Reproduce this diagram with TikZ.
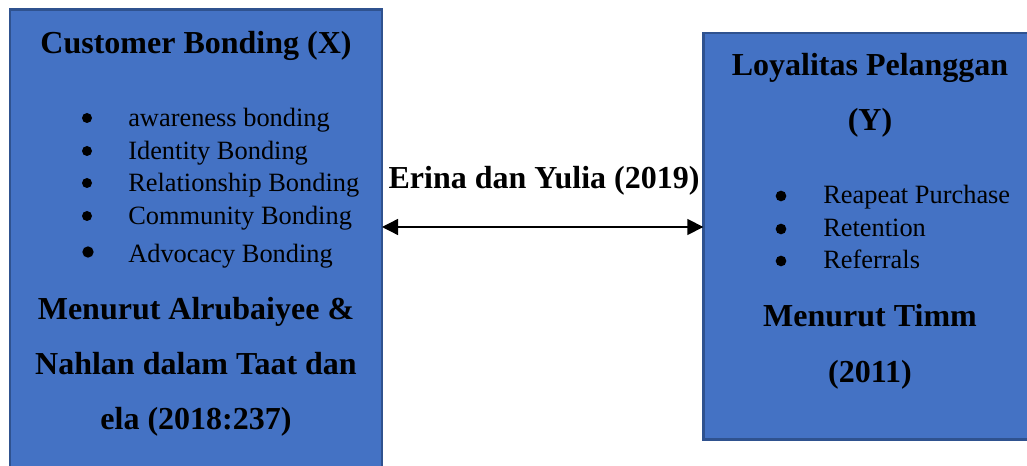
\documentclass[tikz,border=0pt]{standalone}
\usepackage{fontspec}
\setmainfont{Liberation Serif}
\usetikzlibrary{arrows.meta}
\definecolor{boxfill}{HTML}{4472C4}
\definecolor{boxline}{HTML}{2F528F}
\begin{document}
\begin{tikzpicture}[x=0.75pt,y=-0.75pt,
    panel/.style={draw=boxline,fill=boxfill,line width=2pt,inner sep=0pt,outer sep=0pt},
    head/.style={anchor=base,inner sep=0pt,font=\fontsize{24}{28}\selectfont\bfseries},
    item/.style={anchor=base west,inner sep=0pt,font=\fontsize{19.8}{23}\selectfont},
    dot/.style={circle,fill=black,inner sep=0pt,minimum size=7.5pt}]
  \useasboundingbox (0,0) rectangle (1027,466);
  % the two variable boxes
  \node[panel,minimum width=279pt,minimum height=350pt] (X) at (196,242.75) {};
  \node[panel,minimum width=250pt,minimum height=305pt] (Y) at (870,236.25) {};
  % left box
  \draw
    (196,54) node[head] (xtitle){Customer Bonding (X)}
    (87,118) node[dot] (xd1){}
    (128,127) node[item] (x1){awareness bonding}
    (87,151) node[dot] (xd2){}
    (128,160) node[item] (x2){Identity Bonding}
    (87,183) node[dot] (xd3){}
    (128,192) node[item] (x3){Relationship Bonding}
    (87,216) node[dot] (xd4){}
    (128,225) node[item] (x4){Community Bonding}
    (88,252) node[dot,minimum size=8.5pt] (xd5){}
    (128,263) node[item] (x5){Advocacy Bonding}
    (196,320) node[head] (xsrc1){Menurut Alrubaiyee \&}
    (196,374) node[head] (xsrc2){Nahlan dalam Taat dan}
    (196,429) node[head] (xsrc3){ela (2018:237)};
  % right box
  \draw
    (870,76) node[head] (ytitle1){Loyalitas Pelanggan}
    (870,131) node[head] (ytitle2){(Y)}
    (781,196) node[dot,minimum size=8pt] (yd1){}
    (823,204) node[item] (y1){Reapeat Purchase}
    (781,229) node[dot,minimum size=8pt] (yd2){}
    (823,237) node[item] (y2){Retention}
    (781,261) node[dot,minimum size=8pt] (yd3){}
    (823,269) node[item] (y3){Referrals}
    (870,326) node[head] (ysrc1){Menurut Timm}
    (870,382) node[head] (ysrc2){(2011)};
  % relation between X and Y
  \node[head] (rel) at (544,189) {Erina dan Yulia (2019)};
  \coordinate (arrowrow) at (544,227);
  \begin{scope}[{Triangle[length=12pt,width=12pt]}-{Triangle[length=12pt,width=12pt]},line width=1pt]
    \draw (X.east |- arrowrow) to (Y.west |- arrowrow);
  \end{scope}
\end{tikzpicture}
\end{document}
